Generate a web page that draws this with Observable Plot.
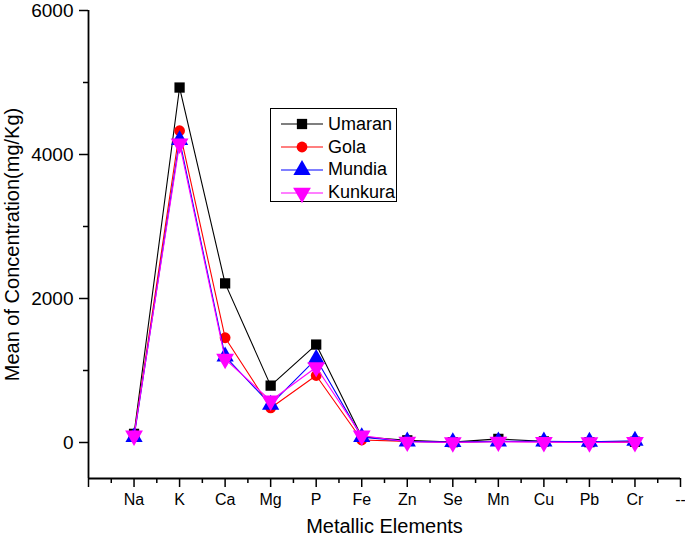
<!DOCTYPE html>
<html>
<head>
<meta charset="utf-8">
<script src="https://cdn.jsdelivr.net/npm/d3@7"></script>
<script src="https://cdn.jsdelivr.net/npm/@observablehq/plot@0.6"></script>
<style>
  body { margin: 0; background: #fff; }
  #wrap { position: relative; width: 685px; height: 540px; font-family: "Liberation Sans", Arial, sans-serif; }
  #legend { position: absolute; left: 270px; top: 108px; width: 127px; height: 94px; border: 1px solid #000; background: #fff; box-sizing: border-box; padding-top: 4px; }
  .row { display: flex; align-items: center; height: 22.8px; }
  .row svg { margin-left: 10px; margin-right: 5px; }
  .row span { font-size: 18px; color: #000; }
</style>
</head>
<body>
<div id="wrap"></div>
<script>
const elements = ["Na","K","Ca","Mg","P","Fe","Zn","Se","Mn","Cu","Pb","Cr"];
const xTickLabels = ["", "Na","K","Ca","Mg","P","Fe","Zn","Se","Mn","Cu","Pb","Cr","--"];
const seriesNames = ["Umaran","Gola","Mundia","Kunkura"];
const seriesColors = ["#000000","#ff0000","#0000ff","#ff00ff"];
const umaran  = [120, 4930, 2210, 790, 1360, 80, 30, 5, 50, 15, 5, 10];
const gola    = [100, 4330, 1455, 480,  930, 35, 15, 5, 15, 10, 5, 5];
const mundia  = [ 75, 4200, 1195, 525, 1160, 75, 15, 5, 15, 15, 10, 25];
const kunkura = [ 95, 4150, 1160, 580, 1045, 95, 10, 0, 10,  5, 0, 5];
const yMajor = [0, 2000, 4000, 6000];
const yMinor = [1000, 3000, 5000];

const downTriangle = {
  draw(context, size) {
    const y = Math.sqrt(size / (3 * Math.sqrt(3)));
    context.moveTo(0, 2 * y);
    context.lineTo(-Math.sqrt(3) * y, -y);
    context.lineTo(Math.sqrt(3) * y, -y);
    context.closePath();
  }
};
const symbols = ["square", "circle", "triangle", downTriangle];
const radii = [5.8, 5.4, 6.4, 6.6];
const valuesList = [umaran, gola, mundia, kunkura];

const seriesMarks = seriesNames.flatMap((name, k) => {
  const rows = valuesList[k].map((v, i) => ({x: i + 1, y: v, name}));
  return [
    Plot.line(rows, {x: "x", y: "y", stroke: seriesColors[k], strokeWidth: 1.1}),
    Plot.dot(rows, {x: "x", y: "y", symbol: () => symbols[k], fill: seriesColors[k], stroke: "none", r: radii[k]})
  ];
});

const xMajor = d3.range(0, 14);
const xMinor = d3.range(0.5, 13, 1);

const chart = Plot.plot({
  width: 685,
  height: 540,
  marginLeft: 88,
  marginRight: 5,
  marginTop: 10,
  marginBottom: 62,
  style: {fontFamily: '"Liberation Sans", Arial, sans-serif', color: "#000", background: "#fff", overflow: "visible"},
  x: {domain: [0, 13], axis: null},
  y: {domain: [-500, 6000], axis: null},
  symbol: {type: "identity"},
  marks: [
    Plot.axisY(yMajor, {tickSize: 9, tickPadding: 6, fontSize: 19, strokeWidth: 1.5, tickFormat: d => String(d), label: null}),
    Plot.axisY(yMinor, {tickSize: 5, tickFormat: () => "", strokeWidth: 1.5, label: null}),
    Plot.axisX(xMajor, {anchor: "bottom", tickSize: 9, tickPadding: 6, fontSize: 16, strokeWidth: 1.5, tickFormat: d => xTickLabels[d], label: null}),
    Plot.axisX(xMinor, {anchor: "bottom", tickSize: 5, tickFormat: () => "", strokeWidth: 1.5, label: null}),
    Plot.ruleX([0], {y1: -500, y2: 6000, strokeWidth: 1.8}),
    Plot.ruleY([-500], {x1: 0, x2: 13, strokeWidth: 1.8}),
    ...seriesMarks,
    Plot.text(["Mean of Concentration(mg/Kg)"], {frameAnchor: "left", textAnchor: "middle", rotate: -90, dx: -76, fontSize: 20}),
    Plot.text(["Metallic Elements"], {frameAnchor: "bottom", dy: 54, fontSize: 20})
  ]
});

const wrap = document.getElementById("wrap");
wrap.appendChild(chart);

const legend = document.createElement("div");
legend.id = "legend";
const ns = "http://www.w3.org/2000/svg";
seriesNames.forEach((name, k) => {
  const row = document.createElement("div");
  row.className = "row";
  const svg = document.createElementNS(ns, "svg");
  svg.setAttribute("width", 42);
  svg.setAttribute("height", 20);
  const line = document.createElementNS(ns, "line");
  line.setAttribute("x1", 0); line.setAttribute("x2", 42);
  line.setAttribute("y1", 10); line.setAttribute("y2", 10);
  line.setAttribute("stroke", seriesColors[k]); line.setAttribute("stroke-width", 1.2);
  svg.appendChild(line);
  const path = document.createElementNS(ns, "path");
  const sym = typeof symbols[k] === "string"
    ? {square: d3.symbolSquare, circle: d3.symbolCircle, triangle: d3.symbolTriangle}[symbols[k]]
    : symbols[k];
  path.setAttribute("d", d3.symbol(sym, Math.PI * radii[k] * radii[k])());
  path.setAttribute("transform", "translate(21,10)");
  path.setAttribute("fill", seriesColors[k]);
  svg.appendChild(path);
  row.appendChild(svg);
  const span = document.createElement("span");
  span.textContent = name;
  row.appendChild(span);
  legend.appendChild(row);
});
wrap.appendChild(legend);
</script>
</body>
</html>
